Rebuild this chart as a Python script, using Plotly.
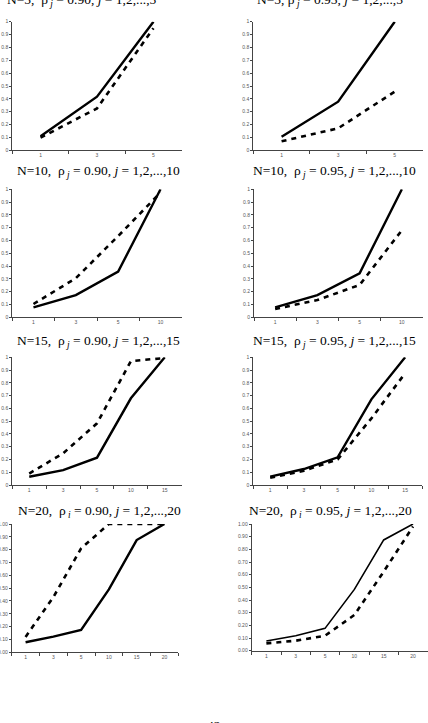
import plotly.graph_objects as go

W, H = 428, 723

# ---- data ----
cats5 = ["1", "3", "5"]
cats10 = ["1", "3", "5", "10"]
cats15 = ["1", "3", "5", "10", "15"]
cats20 = ["1", "3", "5", "10", "15", "20"]

n5_090_solid = [0.11, 0.417, 1.0]
n5_090_dash = [0.098, 0.326, 0.95]
n5_095_solid = [0.106, 0.378, 1.0]
n5_095_dash = [0.07, 0.171, 0.456]

n10_090_solid = [0.078, 0.174, 0.357, 1.0]
n10_090_dash = [0.104, 0.305, 0.635, 0.975]
n10_095_solid = [0.078, 0.174, 0.344, 1.0]
n10_095_dash = [0.065, 0.135, 0.253, 0.68]

n15_090_solid = [0.065, 0.117, 0.214, 0.679, 1.0]
n15_090_dash = [0.09, 0.248, 0.483, 0.97, 0.995]
n15_095_solid = [0.065, 0.125, 0.217, 0.671, 1.0]
n15_095_dash = [0.057, 0.112, 0.2, 0.522, 0.875]

n20_090_solid = [0.078, 0.122, 0.174, 0.49, 0.875, 1.0]
n20_090_dash = [0.12, 0.43, 0.81, 1.0, 1.0, 1.0]
n20_095_solid = [0.076, 0.118, 0.176, 0.484, 0.874, 1.0]
n20_095_dash = [0.058, 0.079, 0.118, 0.282, 0.624, 0.98]

titles = [
    "N=5,  ρ<sub> <i>j</i></sub> = 0.90, <i>j</i> = 1,2,...,5",
    "N=5, ρ<sub> <i>j</i></sub> = 0.95, <i>j</i> = 1,2,...,5",
    "N=10,  ρ<sub> <i>j</i></sub> = 0.90, <i>j</i> = 1,2,...,10",
    "N=10,  ρ<sub> <i>j</i></sub> = 0.95, <i>j</i> = 1,2,...,10",
    "N=15,  ρ<sub> <i>j</i></sub> = 0.90, <i>j</i> = 1,2,...,15",
    "N=15,  ρ<sub> <i>j</i></sub> = 0.95, <i>j</i> = 1,2,...,15",
    "N=20,  ρ<sub> <i>i</i></sub> = 0.90, <i>j</i> = 1,2,...,20",
    "N=20,  ρ<sub> <i>i</i></sub> = 0.95, <i>j</i> = 1,2,...,20",
]

panels = [
    (cats5, n5_090_solid, n5_090_dash),
    (cats5, n5_095_solid, n5_095_dash),
    (cats10, n10_090_solid, n10_090_dash),
    (cats10, n10_095_solid, n10_095_dash),
    (cats15, n15_090_solid, n15_090_dash),
    (cats15, n15_095_solid, n15_095_dash),
    (cats20, n20_090_solid, n20_090_dash),
    (cats20, n20_095_solid, n20_095_dash),
]

# ---- layout geometry (pixels) ----
# (left, right, top, bottom) of each plot area
boxes = [
    (12.3, 181.7, 21.7, 150.3),
    (253.3, 423.0, 21.7, 150.3),
    (12.3, 181.7, 189.3, 317.3),
    (254.0, 423.0, 189.3, 317.3),
    (12.3, 181.7, 357.3, 485.0),
    (253.3, 422.0, 357.3, 485.0),
    (11.7, 178.3, 524.0, 652.3),
    (251.7, 427.7, 524.0, 650.7),
]
# title centres (x, y) in px
title_pos = [
    (82, 0), (330, 0),
    (98, 171.5), (334, 171.5),
    (98, 341.5), (334.5, 341.5),
    (99, 511.5), (330, 511.5),
]

fig = go.Figure()
layout = dict(
    width=W, height=H,
    margin=dict(l=0, r=0, t=0, b=0),
    paper_bgcolor="white", plot_bgcolor="white",
    showlegend=False,
    annotations=[],
)

for i, ((cats, solid, dash), box) in enumerate(zip(panels, boxes)):
    k = i + 1
    xa = "x" if k == 1 else f"x{k}"
    ya = "y" if k == 1 else f"y{k}"
    solid_w = 1.6 if i == 7 else 2.4
    fig.add_trace(go.Scatter(x=cats, y=dash, mode="lines", xaxis=xa, yaxis=ya,
                             line=dict(color="black", width=2.6, dash="5px,5px")))
    fig.add_trace(go.Scatter(x=cats, y=solid, mode="lines", xaxis=xa, yaxis=ya,
                             line=dict(color="black", width=solid_w)))
    l, r, t, b = box
    xkey = "xaxis" if k == 1 else f"xaxis{k}"
    ykey = "yaxis" if k == 1 else f"yaxis{k}"
    layout[xkey] = dict(
        domain=[l / W, r / W], anchor=ya, type="category",
        range=[-0.5, len(cats) - 0.5],
        showline=True, linecolor="#444", linewidth=1,
        ticks="outside", tickson="boundaries", ticklen=3, tickcolor="#444",
        tickfont=dict(size=5, color="#555", family="Liberation Sans"),
        showgrid=False, zeroline=False, fixedrange=True,
    )
    layout[ykey] = dict(
        domain=[(H - b) / H, (H - t) / H], anchor=xa,
        range=[0, 1], dtick=0.1, tick0=0,
        tickformat=".2f" if i >= 6 else None,
        showline=True, linecolor="#444", linewidth=1,
        ticks="outside", ticklen=2, tickcolor="#444",
        tickfont=dict(size=5, color="#555", family="Liberation Sans"),
        showgrid=False, zeroline=False, fixedrange=True, automargin=False,
    )
    tx, ty = title_pos[i]
    layout["annotations"].append(dict(
        text=titles[i], xref="paper", yref="paper",
        x=tx / W, y=(H - ty) / H, xanchor="center", yanchor="middle",
        showarrow=False,
        font=dict(family="Liberation Serif", size=13.5, color="black"),
    ))

layout["annotations"].append(dict(
    text="42", xref="paper", yref="paper", x=214 / W, y=(H - 725) / H,
    xanchor="center", yanchor="middle", showarrow=False,
    font=dict(family="Liberation Serif", size=13.5, color="black"),
))

fig.update_layout(**layout)
fig.write_html("out.html")
